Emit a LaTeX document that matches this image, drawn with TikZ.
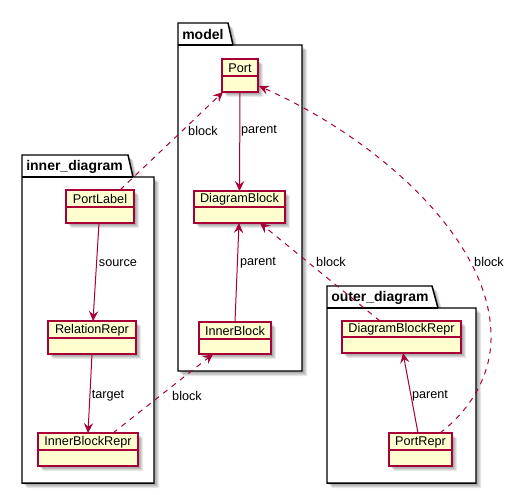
\documentclass[tikz,border=0pt]{standalone}
\usepackage{fontspec}
\setmainfont{Liberation Sans}
\usetikzlibrary{calc,arrows.meta}
\definecolor{umlred}{HTML}{A80036}
\definecolor{umlfill}{HTML}{FEFECE}
\tikzset{
  clsbox/.style={draw=umlred, fill=umlfill, line width=0.9pt, rectangle, inner sep=0pt, outer sep=0pt, anchor=north west},
  clsline/.style={draw=umlred, line width=0.9pt},
  clstext/.style={font=\fontsize{9.5pt}{11pt}\selectfont, inner sep=0pt},
  lbl/.style={font=\fontsize{9.5pt}{11pt}\selectfont, inner sep=0pt},
  pkgbox/.style={draw=black, fill=white, line width=1.1pt, line join=miter},
  pkgtitle/.style={font=\bfseries\fontsize{10.5pt}{12pt}\selectfont, inner sep=0pt, anchor=west},
  rel/.style={draw=umlred, line width=0.75pt, -{Stealth[length=7.5pt,width=7pt,inset=2.8pt]}},
  dep/.style={rel, dash pattern=on 4pt off 4pt},
  shadowc/.style={fill=black, opacity=0.09},
}
\newcommand{\mkshadow}[4]{%
  \foreach \s in {2,3,4,5} {\fill[shadowc] ({#1+\s},{#2+\s}) rectangle ({#3+\s},{#4+\s});}%
}
% \umlclass{name}{x1}{y1}{x2}{y2}{div}{text}
\newcommand{\umlclass}[7]{%
  \mkshadow{#2}{#3}{#4}{#5}
  \node[clsbox, minimum width={(#4-#2)*0.75pt}, minimum height={(#5-#3)*0.75pt}] (#1) at (#2,#3) {};
  \draw[clsline] (#2,#6) -- (#4,#6);
  \node[clstext] (#1-name) at ({(#2+#4)/2},{(#3+#6)/2+0.5}) {#7};
}
% \umlpkg{name}{x1}{y1}{tabtop}{tabbot}{tabline}{x2}{y2}{title}
\newcommand{\umlpkg}[9]{%
  \foreach \s in {2,3,4,5} {\fill[shadowc] ({#2+\s},{#3+\s}) -- ({#4+\s},{#3+\s}) -- ({#5+\s},{#6+\s}) -- ({#7+\s},{#6+\s}) -- ({#7+\s},{#8+\s}) -- ({#2+\s},{#8+\s}) -- cycle;}
  \filldraw[pkgbox] (#2,#3) -- (#4,#3) -- (#5,#6) -- (#7,#6) -- (#7,#8) -- (#2,#8) -- cycle;
  \draw[pkgbox] (#2,#6) -- (#5,#6);
  \node[pkgtitle] (#1) at ({#2+4},{(#3+#6)/2+0.5}) {#9};
}
\begin{document}
\begin{tikzpicture}[x=0.75pt,y=-0.75pt]
\useasboundingbox (0,0) rectangle (516,494);

% packages
\umlpkg{pkgmodel}{178}{23}{228}{233}{45}{302}{371}{model}
\umlpkg{pkginner}{22}{155}{128}{133}{177}{154}{483}{inner\_diagram}
\umlpkg{pkgouter}{327}{286}{432}{438}{308}{476}{483}{outer\_diagram}

% classes
\umlclass{port}{222}{59}{258}{92}{76}{Port}
\umlclass{diagramblock}{194}{191}{285}{223}{207}{DiagramBlock}
\umlclass{innerblock}{199}{322}{271}{354}{339}{InnerBlock}
\umlclass{portlabel}{66}{190}{134}{223}{207}{PortLabel}
\umlclass{relationrepr}{48}{321}{136}{354}{338}{RelationRepr}
\umlclass{innerblockrepr}{38}{433}{138}{466}{450}{InnerBlockRepr}
\umlclass{diagramblockrepr}{342}{321}{461}{353}{337}{DiagramBlockRepr}
\umlclass{portrepr}{389}{433}{452}{466}{450}{PortRepr}

% relations
\draw[rel] (port.south) -- (diagramblock.north);
\node[lbl] (l1) at (259,131) {parent};

\draw[rel] (innerblock.north) -- ($(diagramblock.south west)+(45,0)$);
\node[lbl] (l2) at (258,263) {parent};

\draw[dep] ($(portlabel.north west)+(54,0)$) -- ($(port.south west)+(1,0)$);
\node[lbl] (l3) at (203,131) {block};

\draw[dep] ($(diagramblockrepr.north west)+(38,0)$) -- ($(diagramblock.south west)+(66,0)$);
\node[lbl] (l4) at (331,262) {block};

\draw[dep] ($(portrepr.north west)+(51,0)$) .. controls (470,410) and (492,375) .. (491,335)
   .. controls (490,240) and (380,140) .. ($(port.north east)+(1,27)$);
\node[lbl] (l5) at (489,262) {block};

\draw[rel] ($(portrepr.north west)+(29,0)$) -- ($(diagramblockrepr.south west)+(61,0)$);
\node[lbl] (l6) at (430,396) {parent};

\draw[rel] ($(portlabel.south west)+(33,0)$) -- ($(relationrepr.north west)+(45,0)$);
\node[lbl] (l7) at (118,263) {source};

\draw[rel] (relationrepr.south) -- ($(innerblockrepr.north west)+(50,0)$);
\node[lbl] (l8) at (108,396) {target};

\draw[dep] ($(innerblockrepr.north west)+(75,0)$) -- ($(innerblock.south west)+(14,0)$);
\node[lbl] (l9) at (187,396) {block};
\end{tikzpicture}
\end{document}
